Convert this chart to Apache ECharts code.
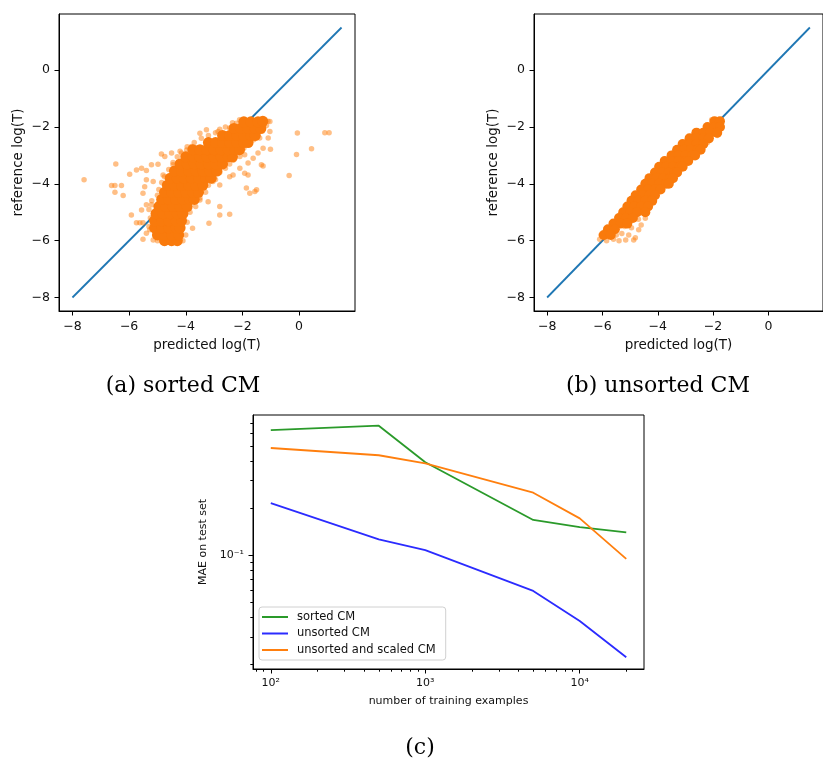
<!DOCTYPE html>
<html>
<head>
<meta charset="utf-8">
<script src="https://cdn.jsdelivr.net/npm/echarts@6/dist/echarts.min.js"></script>
<style>
html,body{margin:0;padding:0;background:#fff;}
#chart{width:823px;height:764px;}
</style>
</head>
<body>
<div id="chart"></div>
<script>
// ---------- DATA ----------
// panel (a) sorted CM: dense core of the cloud
const sortedCore = [
[-4.75,-6.0],[-4.5,-6.0],[-4.3,-6.0],
[-5.0,-5.8],[-4.75,-5.8],[-4.5,-5.8],[-4.25,-5.8],
[-5.1,-5.55],[-4.85,-5.55],[-4.6,-5.55],[-4.35,-5.55],[-4.2,-5.55],
[-5.1,-5.3],[-4.85,-5.3],[-4.6,-5.3],[-4.35,-5.3],[-4.15,-5.3],
[-5.05,-5.05],[-4.8,-5.05],[-4.55,-5.05],[-4.3,-5.05],[-4.1,-5.05],
[-4.95,-4.8],[-4.7,-4.8],[-4.45,-4.8],[-4.2,-4.8],[-3.95,-4.8],
[-4.85,-4.55],[-4.6,-4.55],[-4.35,-4.55],[-4.1,-4.55],[-3.85,-4.55],[-3.7,-4.55],
[-4.75,-4.3],[-4.5,-4.3],[-4.25,-4.3],[-4.0,-4.3],[-3.75,-4.3],[-3.55,-4.3],
[-4.65,-4.05],[-4.4,-4.05],[-4.15,-4.05],[-3.9,-4.05],[-3.65,-4.05],[-3.4,-4.05],
[-4.55,-3.8],[-4.3,-3.8],[-4.05,-3.8],[-3.8,-3.8],[-3.55,-3.8],[-3.3,-3.8],[-3.1,-3.8],
[-4.4,-3.55],[-4.15,-3.55],[-3.9,-3.55],[-3.65,-3.55],[-3.4,-3.55],[-3.15,-3.55],[-2.9,-3.55],
[-4.2,-3.3],[-3.95,-3.3],[-3.7,-3.3],[-3.45,-3.3],[-3.2,-3.3],[-2.95,-3.3],[-2.7,-3.3],
[-4.0,-3.05],[-3.75,-3.05],[-3.5,-3.05],[-3.25,-3.05],[-3.0,-3.05],[-2.75,-3.05],[-2.5,-3.05],[-2.35,-3.05],
[-3.75,-2.8],[-3.5,-2.8],[-3.25,-2.8],[-3.0,-2.8],[-2.75,-2.8],[-2.5,-2.8],[-2.25,-2.8],[-2.1,-2.8],
[-3.2,-2.55],[-2.95,-2.55],[-2.7,-2.55],[-2.45,-2.55],[-2.2,-2.55],[-1.95,-2.55],[-1.8,-2.55],
[-2.7,-2.3],[-2.45,-2.3],[-2.2,-2.3],[-1.95,-2.3],[-1.7,-2.3],[-1.55,-2.3],
[-2.3,-2.05],[-2.05,-2.05],[-1.8,-2.05],[-1.55,-2.05],[-1.35,-2.05],
[-1.95,-1.82],[-1.7,-1.82],[-1.45,-1.82],[-1.28,-1.8]
];
// panel (a): scattered points around the core and outliers
const sortedSparse = [
[-5.3,-5.5],[-5.25,-5.2],[-5.3,-4.9],[-5.2,-4.6],[-5.0,-4.4],[-4.95,-4.2],[-4.85,-3.95],[-4.75,-3.75],
[-4.6,-3.5],[-4.45,-3.25],[-4.3,-3.05],[-4.2,-2.85],[-3.95,-2.7],[-3.7,-2.55],[-3.45,-2.4],[-3.2,-2.3],
[-2.95,-2.2],[-2.6,-2.0],[-2.35,-1.85],[-2.1,-1.75],
[-4.0,-5.8],[-3.95,-5.35],[-3.85,-5.0],[-3.65,-4.8],[-3.5,-4.5],[-3.3,-4.3],[-3.2,-4.05],[-2.95,-3.85],
[-2.8,-3.6],[-2.6,-3.45],[-2.45,-3.3],[-2.3,-3.15],[-2.1,-2.9],[-1.95,-2.75],[-1.8,-2.6],[-1.6,-2.45],
[-1.45,-2.3],[-1.3,-2.15],[-1.15,-1.95],[-1.1,-1.8],
[-5.0,-6.0],[-4.1,-6.0],[-4.6,-6.05],
[-7.59,-3.86],[-6.62,-4.06],[-6.5,-4.06],[-6.27,-4.06],[-6.5,-4.3],[-6.21,-4.41],[-6.47,-3.3],[-5.98,-3.66],
[-5.74,-3.51],[-5.56,-3.45],[-5.39,-3.53],[-5.21,-3.33],[-4.98,-3.31],[-5.92,-5.1],[-5.74,-5.37],[-5.62,-5.37],
[-5.51,-5.37],[-5.51,-4.33],[-5.45,-4.1],[-5.39,-3.86],[-5.15,-3.92],[-5.56,-4.92],[-5.39,-4.74],[-5.21,-4.74],
[-5.51,-5.95],[-5.39,-5.74],[-5.27,-5.62],[-5.15,-5.98],[-4.8,-5.98],[-4.86,-2.95],[-4.74,-3.04],[-4.5,-2.92],
[-4.15,-2.92],[-4.45,-3.33],[-4.8,-3.69],[-3.97,-2.81],[-3.8,-2.69],[-3.5,-2.22],[-3.27,-2.1],[-2.8,-2.08],
[-2.86,-2.16],[-2.45,-2.04],[-2.21,-1.87],[-4.21,-5.98],[-4.27,-5.62],[-3.76,-5.56],[-3.18,-5.39],[-2.8,-5.1],
[-2.45,-5.07],[-2.8,-4.8],[-3.5,-4.57],[-3.21,-4.63],[-3.68,-4.33],[-3.8,-4.1],[-3.04,-3.92],[-2.8,-4.04],
[-2.45,-3.75],[-2.33,-3.69],[-1.92,-3.63],[-1.8,-3.69],[-1.86,-4.15],[-1.74,-4.33],[-1.56,-4.27],[-1.5,-4.21],
[-2.09,-3.45],[-1.8,-3.27],[-1.62,-3.1],[-2.33,-3.16],[-2.09,-3.04],[-1.92,-2.98],[-1.45,-2.92],[-1.27,-2.75],
[-1.01,-2.78],[-1.33,-3.33],[-1.27,-3.37],[-1.39,-2.39],[-1.09,-2.39],[-1.03,-2.16],[-1.03,-1.81],
[-0.06,-2.21],[0.91,-2.2],[1.06,-2.2],[-0.09,-2.97],[0.44,-2.77],[-0.35,-3.71]
];
// panel (b) unsorted CM: dense core
const unsortedCore = [
[-1.95,-1.8],[-1.75,-1.8],
[-2.2,-2.0],[-1.95,-2.0],[-1.75,-2.0],
[-2.6,-2.2],[-2.35,-2.2],[-2.1,-2.2],[-1.85,-2.2],
[-2.85,-2.4],[-2.6,-2.4],[-2.35,-2.4],[-2.15,-2.4],
[-3.1,-2.6],[-2.85,-2.6],[-2.6,-2.6],[-2.35,-2.6],
[-3.3,-2.8],[-3.05,-2.8],[-2.8,-2.8],[-2.55,-2.8],[-2.45,-2.8],
[-3.5,-3.0],[-3.25,-3.0],[-3.0,-3.0],[-2.75,-3.0],[-2.65,-3.0],
[-3.75,-3.2],[-3.5,-3.2],[-3.25,-3.2],[-3.0,-3.2],[-2.9,-3.2],
[-3.95,-3.4],[-3.7,-3.4],[-3.45,-3.4],[-3.2,-3.4],[-3.1,-3.4],
[-4.1,-3.6],[-3.85,-3.6],[-3.6,-3.6],[-3.4,-3.6],[-3.3,-3.6],
[-4.3,-3.8],[-4.05,-3.8],[-3.8,-3.8],[-3.55,-3.8],[-3.45,-3.8],
[-4.45,-4.0],[-4.2,-4.0],[-3.95,-4.0],[-3.7,-4.0],[-3.6,-4.0],
[-4.6,-4.2],[-4.35,-4.2],[-4.1,-4.2],[-3.9,-4.2],
[-4.8,-4.4],[-4.55,-4.4],[-4.3,-4.4],[-4.1,-4.4],
[-4.95,-4.6],[-4.7,-4.6],[-4.45,-4.6],[-4.2,-4.6],
[-5.1,-4.8],[-4.85,-4.8],[-4.6,-4.8],[-4.35,-4.8],
[-5.25,-5.0],[-5.0,-5.0],[-4.75,-5.0],[-4.45,-5.0],
[-5.4,-5.2],[-5.15,-5.2],[-4.9,-5.2],
[-5.6,-5.4],[-5.35,-5.4],[-5.1,-5.4],
[-5.8,-5.6],[-5.55,-5.6],
[-5.95,-5.8],[-5.7,-5.8]
];
// panel (b): scattered points around the core
const unsortedSparse = [
[-6.1,-5.95],[-6.0,-5.85],[-5.85,-6.0],[-5.6,-5.95],[-5.4,-6.0],[-5.16,-5.98],[-4.87,-5.98],[-4.81,-5.9],
[-5.05,-5.8],[-5.3,-5.75],[-4.69,-5.62],[-4.95,-5.55],[-5.2,-5.5],[-4.6,-5.45],[-4.45,-5.21],[-4.7,-5.25],
[-4.4,-4.86],[-4.3,-4.75],[-4.55,-5.0],[-5.5,-5.8],[-5.75,-5.75],[-6.05,-5.8],
[-2.05,-1.75],[-1.7,-1.75],[-1.77,-2.1],[-1.85,-2.3],[-2.7,-2.25],[-3.4,-2.85],[-3.0,-2.55],[-4.0,-3.45],
[-4.5,-4.0],[-4.8,-4.4],[-5.1,-4.75],[-3.3,-3.55],[-2.9,-3.15],[-2.5,-2.75],[-3.65,-3.95],[-4.05,-4.35],
[-2.2,-2.55]
];
// identity line endpoints
const diagX = [-8, 1.5];
const logTicks = [-8, -6, -4, -2, 0];

// panel (c)
const trainSizes = [100, 500, 1000, 5000, 10000, 20000];
const maeSorted = [0.632, 0.674, 0.393, 0.168, 0.151, 0.140];
const maeUnsorted = [0.2155, 0.126, 0.1077, 0.0590, 0.0379, 0.0222];
const maeScaled = [0.485, 0.436, 0.387, 0.251, 0.172, 0.0947];
const xMajor = [100, 1000, 10000];
const xMinor = [80, 90, 200, 300, 400, 500, 600, 700, 800, 900, 2000, 3000, 4000, 5000, 6000, 7000, 8000, 9000, 20000];
const yMajor = [0.1];
const yMinor = [0.02, 0.03, 0.04, 0.05, 0.06, 0.07, 0.08, 0.09, 0.2, 0.3, 0.4, 0.5, 0.6, 0.7];

// ---------- CHART ----------
const chart = echarts.init(document.getElementById('chart'), null, {renderer: 'canvas'});
const FONT = 'DejaVu Sans';
const TXT = '#111';
const minusFmt = v => (v < 0 ? '\u2212' + Math.abs(v) : String(v));
const sup = {'-1': '\u207b\u00b9', '2': '\u00b2', '3': '\u00b3', '4': '\u2074'};
const powFmt = v => '10' + (sup[String(Math.round(Math.log10(v)))] || '');

function linAxis(grid, name, isX) {
  return {
    type: 'value', gridIndex: grid, min: -8.475, max: 1.975,
    position: isX ? 'bottom' : 'left',
    name: name, nameLocation: 'middle', nameGap: isX ? 27 : 34,
    nameTextStyle: {fontFamily: FONT, fontSize: 13.5, color: TXT},
    axisLine: {show: true, onZero: false, lineStyle: {color: '#000', width: 1}},
    axisTick: {show: true, length: 4.5, customValues: logTicks, lineStyle: {color: '#000', width: 1}},
    axisLabel: {customValues: logTicks, formatter: minusFmt, fontFamily: FONT, fontSize: 12.5, color: TXT, margin: 9},
    splitLine: {show: false}
  };
}
function logAxis(grid, min, max, ticks, major, name, isX, gap) {
  return {
    type: 'log', logBase: 10, gridIndex: grid, min: min, max: max,
    position: isX ? 'bottom' : 'left', offset: 0,
    name: major ? name : '', nameLocation: 'middle', nameGap: gap,
    nameTextStyle: {fontFamily: FONT, fontSize: 11, color: TXT},
    axisLine: {show: major, onZero: false, lineStyle: {color: '#000', width: 1}},
    axisTick: {show: true, length: major ? 4.5 : 2.7, customValues: ticks, lineStyle: {color: '#000', width: 1}},
    axisLabel: {show: major, customValues: ticks, formatter: powFmt, fontFamily: FONT, fontSize: 11, color: TXT, margin: 9},
    splitLine: {show: false}, minorTick: {show: false}
  };
}
const pairs = (xs, ys) => xs.map((x, i) => [x, ys[i]]);
const diag = diagX.map(v => [v, v]);

const option = {
  animation: false,
  backgroundColor: '#fff',
  grid: [
    {left: 59, top: 14, width: 296, height: 297, show: true, borderColor: '#000', borderWidth: 1, backgroundColor: '#fff'},
    {left: 534, top: 14, width: 296, height: 297, show: true, borderColor: '#000', borderWidth: 1, backgroundColor: '#fff'},
    {left: 253, top: 415, width: 391, height: 254, show: true, borderColor: '#000', borderWidth: 1, backgroundColor: '#fff'}
  ],
  xAxis: [
    linAxis(0, 'predicted log(T)', true),
    linAxis(1, 'predicted log(T)', true),
    logAxis(2, 76.7, 26060, xMajor, true, 'number of training examples', true, 27),
    logAxis(2, 76.7, 26060, xMinor, false, '', true, 27)
  ],
  yAxis: [
    linAxis(0, 'reference log(T)', false),
    linAxis(1, 'reference log(T)', false),
    logAxis(2, 0.01867, 0.789, yMajor, true, 'MAE on test set', false, 44),
    logAxis(2, 0.01867, 0.789, yMinor, false, '', false, 44)
  ],
  legend: {
    data: ['sorted CM', 'unsorted CM', 'unsorted and scaled CM'],
    orient: 'vertical', left: 259, top: 607,
    itemWidth: 26, itemHeight: 2, itemGap: 4.5, icon: 'rect',
    padding: [4, 10, 4, 3],
    backgroundColor: 'rgba(255,255,255,0.8)', borderColor: '#d0d0d0', borderWidth: 1, borderRadius: 3,
    textStyle: {fontFamily: FONT, fontSize: 11.5, color: TXT, padding: [0, 0, 0, 4]}
  },
  series: [
    {type: 'line', xAxisIndex: 0, yAxisIndex: 0, data: diag, symbol: 'none', lineStyle: {color: '#1f77b4', width: 1.8}, z: 2},
    {type: 'scatter', xAxisIndex: 0, yAxisIndex: 0, data: sortedSparse, symbolSize: 5.5, itemStyle: {color: '#ff7f0e', opacity: 0.5}, z: 3},
    {type: 'scatter', xAxisIndex: 0, yAxisIndex: 0, data: sortedCore, symbolSize: 11, itemStyle: {color: '#f97a0c', opacity: 1}, z: 4},
    {type: 'line', xAxisIndex: 1, yAxisIndex: 1, data: diag, symbol: 'none', lineStyle: {color: '#1f77b4', width: 1.8}, z: 2},
    {type: 'scatter', xAxisIndex: 1, yAxisIndex: 1, data: unsortedSparse, symbolSize: 5.5, itemStyle: {color: '#ff7f0e', opacity: 0.5}, z: 3},
    {type: 'scatter', xAxisIndex: 1, yAxisIndex: 1, data: unsortedCore, symbolSize: 10, itemStyle: {color: '#f97a0c', opacity: 1}, z: 4},
    {name: 'sorted CM', type: 'line', xAxisIndex: 2, yAxisIndex: 2, data: pairs(trainSizes, maeSorted), symbol: 'none', color: '#2a9a2a', lineStyle: {color: '#2a9a2a', width: 1.8}},
    {name: 'unsorted CM', type: 'line', xAxisIndex: 2, yAxisIndex: 2, data: pairs(trainSizes, maeUnsorted), symbol: 'none', color: '#2b2bff', lineStyle: {color: '#2b2bff', width: 1.8}},
    {name: 'unsorted and scaled CM', type: 'line', xAxisIndex: 2, yAxisIndex: 2, data: pairs(trainSizes, maeScaled), symbol: 'none', color: '#ff7f0e', lineStyle: {color: '#ff7f0e', width: 1.8}}
  ],
  graphic: [
    {type: 'text', style: {text: '(a) sorted CM', x: 183, y: 386, align: 'center', verticalAlign: 'middle', font: '22px "DejaVu Serif"', fill: '#000'}},
    {type: 'text', style: {text: '(b) unsorted CM', x: 658, y: 386, align: 'center', verticalAlign: 'middle', font: '22px "DejaVu Serif"', fill: '#000'}},
    {type: 'text', style: {text: '(c)', x: 420, y: 748, align: 'center', verticalAlign: 'middle', font: '22px "DejaVu Serif"', fill: '#000'}}
  ]
};
chart.setOption(option);
</script>
</body>
</html>
